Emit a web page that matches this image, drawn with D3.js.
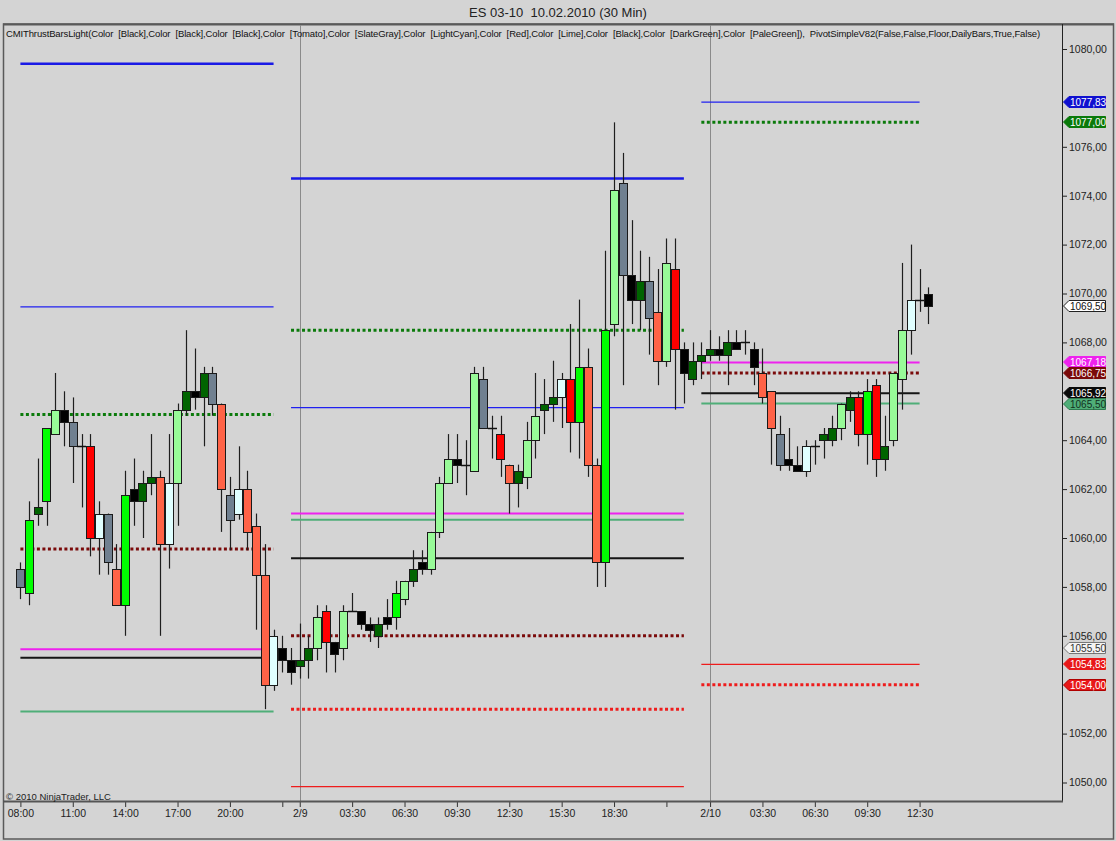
<!DOCTYPE html>
<html><head><meta charset="utf-8">
<script src="https://cdn.jsdelivr.net/npm/d3@7"></script>
<style>
html,body{margin:0;padding:0;background:#d4d4d4;}
svg{display:block;font-family:"Liberation Sans",Arial,sans-serif;}
</style></head><body>
<svg id="c" width="1116" height="841"></svg>
<script>
// ---------------- data ----------------
const opens  = [1058.75,1057.75,1061.0,1061.5,1064.25,1065.25,1064.75,1063.75,1063.75,1060.0,
                1061.0,1058.75,1057.25,1062.0,1061.5,1062.25,1062.5,1059.75,1062.25,1065.25,
                1066.0,1065.75,1066.75,1065.5,1061.75,1061.0,1062.0,1060.5,1058.5,1054.0,
                1055.5,1055.0,1054.75,1055.0,1055.5,1057.0,1055.75,1055.5,1057.0,1057.0,
                1056.5,1056.0,1056.75,1056.75,1057.5,1058.25,1059.0,1058.75,1060.25,1062.25,
                1063.25,1063.0,1062.75,1066.5,1064.5,1064.25,1063.0,1062.25,1062.5,1064.0,
                1065.25,1065.5,1065.75,1066.5,1064.75,1067.0,1063.0,1059.0,1068.75,1074.5,
                1070.75,1069.75,1070.5,1069.25,1067.25,1071.0,1067.75,1066.5,1067.25,1067.5,
                1067.75,1067.5,1068.0,1068.0,1067.75,1066.75,1066.0,1064.25,1063.25,1063.0,
                1062.75,1063.75,1064.0,1064.0,1064.5,1065.25,1065.75,1064.25,1066.25,1063.25,
                1064.0,1066.5,1068.5,1069.75,1070.0];
const highs  = [1059.0,1061.5,1063.25,1064.5,1066.75,1066.0,1065.75,1064.25,1064.25,1061.5,
                1061.0,1059.75,1062.75,1063.25,1062.75,1064.25,1062.75,1064.25,1065.5,1068.5,
                1067.75,1067.0,1067.0,1065.5,1062.5,1063.75,1062.75,1061.0,1059.75,1056.25,
                1056.0,1055.5,1056.5,1056.0,1057.25,1057.25,1055.75,1057.25,1057.75,1057.0,
                1056.75,1056.75,1057.5,1058.25,1058.25,1059.5,1059.5,1060.25,1062.5,1064.25,
                1064.25,1064.0,1067.0,1067.0,1065.0,1065.0,1063.0,1063.0,1064.75,1066.75,
                1066.5,1067.25,1066.75,1068.75,1069.75,1067.75,1063.25,1071.75,1077.0,1075.75,
                1073.0,1071.75,1071.5,1071.0,1072.25,1072.25,1068.0,1068.0,1068.0,1068.5,
                1068.25,1068.5,1068.5,1068.5,1068.0,1067.75,1066.0,1065.0,1064.5,1063.75,
                1064.0,1064.0,1064.5,1065.0,1065.5,1066.0,1066.0,1066.5,1066.5,1065.0,
                1066.75,1071.25,1072.0,1071.0,1070.25];
const lows   = [1057.5,1057.25,1060.5,1060.5,1064.25,1063.75,1062.25,1061.25,1059.25,1058.5,
                1058.5,1057.25,1056.0,1060.5,1060.0,1061.75,1056.0,1058.75,1060.5,1065.0,
                1065.25,1063.75,1065.0,1060.25,1059.5,1060.75,1059.5,1056.25,1053.0,1053.75,
                1054.5,1054.0,1054.25,1054.25,1055.0,1054.5,1054.5,1055.0,1057.0,1056.25,
                1055.75,1055.5,1056.25,1056.25,1057.25,1058.0,1058.5,1058.5,1060.0,1062.25,
                1062.25,1061.75,1062.75,1064.5,1063.25,1062.5,1061.0,1061.25,1062.0,1063.25,
                1064.25,1064.75,1064.5,1063.5,1063.25,1062.5,1058.0,1058.0,1068.25,1066.25,
                1068.75,1068.5,1067.5,1066.25,1067.0,1065.25,1065.5,1066.25,1066.5,1067.25,
                1067.25,1066.25,1067.75,1067.5,1066.25,1065.5,1063.0,1062.75,1062.75,1062.75,
                1062.5,1063.0,1063.25,1063.75,1064.0,1064.75,1063.75,1063.0,1062.5,1062.75,
                1063.75,1065.25,1067.5,1069.25,1068.75];
const closes = [1058.0,1060.75,1061.25,1064.5,1065.25,1064.75,1063.75,1063.75,1060.0,1061.0,
                1059.0,1057.25,1061.75,1061.5,1062.25,1062.5,1059.75,1062.25,1065.25,1066.0,
                1065.75,1066.75,1065.5,1062.0,1060.75,1062.0,1060.25,1058.5,1054.0,1056.0,
                1055.0,1054.5,1055.0,1055.5,1056.75,1055.75,1055.25,1057.0,1057.0,1056.5,
                1056.25,1056.5,1056.5,1057.75,1058.25,1058.75,1058.75,1060.25,1062.25,1063.25,
                1063.0,1063.0,1066.75,1064.5,1064.5,1063.25,1062.25,1062.75,1064.0,1065.0,
                1065.5,1065.75,1066.5,1064.75,1067.0,1063.0,1059.0,1068.5,1074.25,1070.75,
                1069.75,1070.5,1069.0,1067.25,1071.25,1067.75,1066.75,1067.25,1067.5,1067.75,
                1067.5,1068.0,1067.75,1068.0,1067.0,1065.75,1064.5,1063.0,1063.0,1062.75,
                1063.75,1063.75,1064.25,1064.5,1065.5,1065.75,1064.25,1066.0,1063.25,1063.75,
                1066.75,1068.5,1069.75,1069.75,1069.5];
const barColors = ["gray","lime","dkgreen","lime","pale","black","gray","black","red","cyan",
                "gray","tomato","lime","black","dkgreen","dkgreen","tomato","cyan","pale","dkgreen",
                "black","dkgreen","gray","tomato","gray","cyan","tomato","tomato","tomato","cyan",
                "black","black","dkgreen","dkgreen","pale","red","black","pale","black","black",
                "black","dkgreen","black","lime","pale","dkgreen","black","pale","pale","pale",
                "black","black","pale","gray","black","red","tomato","dkgreen","pale","pale",
                "dkgreen","dkgreen","cyan","red","lime","tomato","tomato","lime","pale","gray",
                "black","dkgreen","gray","tomato","pale","red","black","dkgreen","dkgreen","dkgreen",
                "black","dkgreen","black","black","black","tomato","tomato","gray","black","black",
                "cyan","black","dkgreen","dkgreen","pale","dkgreen","red","lime","red","dkgreen",
                "pale","pale","cyan","black","black"];

const xTickIdx    = [0,6,12,18,24,30,32,38,44,50,56,62,68,74,79,85,91,97,103];
const xTickLabels = ["08:00","11:00","14:00","17:00","20:00","","2/9","03:30","06:30","09:30",
                     "12:30","15:30","18:30","","2/10","03:30","06:30","09:30","12:30"];
const yTickValues = [1050,1052,1056,1058,1060,1062,1064,1068,1070,1072,1074,1076,1080];

const sessionFirstBar = [0,31,78];
const sessionLastBar  = [29,76,103];
const sessionBreaks   = [32,79];

const pivotR2        = [1079.40,1074.70,null];
const pivotR1        = [1069.45,1065.33,1077.83];
const priorHigh      = [1065.05,1068.50,1077.00];
const pivotMagenta   = [1055.45,1061.00,1067.18];
const priorClose     = [1059.55,1056.00,1066.75];
const pivotPP        = [1055.10,1059.17,1065.92];
const pivotMid       = [1052.90,1060.75,1065.50];
const pivotS1        = [null,1049.83,1054.83];
const priorLow       = [null,1053.00,1054.00];

const markerValues = [1077.83,1077.00,1069.50,1067.18,1066.75,1065.92,1065.50,1055.50,1054.83,1054.00];
const markerKinds  = ["r1","ph","last","mag","pc","pp","mid","open","s1","pl"];

const titleText = "ES 03-10  10.02.2010 (30 Min)";
const indicatorText = "CMIThrustBarsLight(Color  [Black],Color  [Black],Color  [Black],Color  [Tomato],Color  [SlateGray],Color  [LightCyan],Color  [Red],Color  [Lime],Color  [Black],Color  [DarkGreen],Color  [PaleGreen]),  PivotSimpleV82(False,False,Floor,DailyBars,True,False)";
const copyrightText = "\u00A9 2010 NinjaTrader, LLC";

// ---------------- layout & styles ----------------
const W = 1116, H = 841;
const plotL = 3, plotR = 1062, plotT = 24, plotB = 801;
const palette = {black:"#000000", tomato:"#FF6347", gray:"#708090", cyan:"#E0FFFF",
                 red:"#FF0000", lime:"#00FF00", dkgreen:"#006400", pale:"#98FB98"};

const svg = d3.select("#c");
svg.append("rect").attr("width",W).attr("height",H).attr("fill","#d4d4d4");

const x = d3.scaleLinear().domain([0,104]).range([20.4, 20.4 + 8.73*104]);
const y = d3.scaleLinear().domain([1050,1080]).range([782.5,49]);

// title
svg.append("text").attr("x",558).attr("y",17).attr("text-anchor","middle")
  .attr("font-size",13).attr("fill","#222").style("white-space","pre").text(titleText);

// frame
svg.append("rect").attr("x",3.5).attr("y",24).attr("width",1110).attr("height",815)
  .attr("fill","none").attr("stroke","#5a5a5a").attr("stroke-width",1.5);
svg.append("line").attr("x1",3).attr("x2",1114).attr("y1",24.5).attr("y2",24.5)
  .attr("stroke","#5a5a5a").attr("stroke-width",2);

// clip
svg.append("clipPath").attr("id","pc").append("rect")
  .attr("x",plotL+1).attr("y",plotT+1).attr("width",plotR-plotL-1).attr("height",plotB-plotT-1);
const plot = svg.append("g").attr("clip-path","url(#pc)");

// session separators
plot.selectAll("line.sep").data(sessionBreaks).join("line").attr("class","sep")
  .attr("x1",d=>Math.round(x(d))+0.5).attr("x2",d=>Math.round(x(d))+0.5)
  .attr("y1",plotT).attr("y2",plotB).attr("stroke","#8a8a8a").attr("stroke-width",1);

// pivot lines
const pivotSets = [
  {vals:pivotR2, color:"#1a1ae6", w:2.5, dash:null},
  {vals:pivotR1, color:"#2020f0", w:1.2, dash:null},
  {vals:priorHigh, color:"#0b7a0b", w:3, dash:"3,2.5"},
  {vals:pivotMagenta, color:"#ee22ee", w:2, dash:null},
  {vals:priorClose, color:"#7a0a0a", w:3, dash:"3,2.5"},
  {vals:pivotPP, color:"#151515", w:2, dash:null},
  {vals:pivotMid, color:"#4fae78", w:2, dash:null},
  {vals:pivotS1, color:"#ee1c1c", w:1.2, dash:null},
  {vals:priorLow, color:"#ee1c1c", w:3, dash:"3,2.5"}
];
pivotSets.forEach(ps=>{
  const segs = ps.vals.map((v,s)=>({v, s})).filter(d=>d.v!==null);
  plot.append("g").selectAll("line").data(segs).join("line")
    .attr("x1",d=>x(sessionFirstBar[d.s])).attr("x2",d=>x(sessionLastBar[d.s]))
    .attr("y1",d=>y(d.v)).attr("y2",d=>y(d.v))
    .attr("stroke",ps.color).attr("stroke-width",ps.w)
    .attr("stroke-dasharray",ps.dash);
});

// candles
const bars = opens.map((o,i)=>({i, o, h:highs[i], l:lows[i], c:closes[i], col:barColors[i]}));
const cg = plot.append("g");
cg.selectAll("line.wick").data(bars).join("line").attr("class","wick")
  .attr("x1",d=>Math.round(x(d.i))+0.5).attr("x2",d=>Math.round(x(d.i))+0.5)
  .attr("y1",d=>y(d.h)).attr("y2",d=>y(d.l))
  .attr("stroke","#1e1e1e").attr("stroke-width",1.2);
const bodies = bars.filter(d=>d.o!==d.c);
cg.selectAll("rect.body").data(bodies).join("rect").attr("class","body")
  .attr("x",d=>Math.round(x(d.i)-4.2)+0.5).attr("width",8)
  .attr("y",d=>Math.round(y(Math.max(d.o,d.c)))+0.5)
  .attr("height",d=>Math.max(1,Math.round(y(Math.min(d.o,d.c)))-Math.round(y(Math.max(d.o,d.c)))))
  .attr("fill",d=>palette[d.col]).attr("stroke","#1a1a1a").attr("stroke-width",1);
const dojis = bars.filter(d=>d.o===d.c);
cg.selectAll("line.doji").data(dojis).join("line").attr("class","doji")
  .attr("x1",d=>Math.round(x(d.i)-4.2)).attr("x2",d=>Math.round(x(d.i)-4.2)+9)
  .attr("y1",d=>Math.round(y(d.o))+0.5).attr("y2",d=>Math.round(y(d.o))+0.5)
  .attr("stroke","#111").attr("stroke-width",1.5);

// axes
const yAxis = d3.axisRight(y).tickValues(yTickValues)
  .tickFormat(d=>d.toFixed(2).replace(".",",")).tickSize(5).tickPadding(2);
const gy = svg.append("g").attr("transform",`translate(${plotR},0)`).call(yAxis);
gy.select(".domain").remove();
gy.selectAll("line").attr("stroke","#222");
gy.selectAll("text").attr("font-size",10.5).attr("fill","#222")
  .attr("font-family","'Liberation Sans',Arial,sans-serif");
svg.append("line").attr("x1",plotR+0.5).attr("x2",plotR+0.5).attr("y1",plotT).attr("y2",plotB)
  .attr("stroke","#222").attr("stroke-width",1);

const xAxis = d3.axisBottom(x).tickValues(xTickIdx)
  .tickFormat((d,i)=>xTickLabels[i]).tickSize(6).tickPadding(3);
const gx = svg.append("g").attr("transform",`translate(0,${plotB})`).call(xAxis);
gx.select(".domain").remove();
gx.selectAll("line").attr("stroke","#333");
gx.selectAll("text").attr("font-size",10.5).attr("fill","#222")
  .attr("font-family","'Liberation Sans',Arial,sans-serif");
svg.append("line").attr("x1",plotL).attr("x2",plotR+1).attr("y1",plotB+0.5).attr("y2",plotB+0.5)
  .attr("stroke","#555").attr("stroke-width",2);

// indicator label (fit to ~1036px with letter spacing, no glyph stretching)
const ind = svg.append("text").attr("x",6).attr("y",37).attr("font-size",9.5).attr("fill","#111")
  .style("white-space","pre").text(indicatorText);
const natural = ind.node().getComputedTextLength();
const targetW = 1034;
const ls = (targetW - natural) / indicatorText.length;
ind.attr("letter-spacing", ls.toFixed(3));

svg.append("text").attr("x",6).attr("y",800).attr("font-size",9.5).attr("fill","#222")
  .text(copyrightText);

// price markers on right axis
const markerStyle = {
  r1:{fill:"#1010d0", stroke:"#1010d0", text:"#ffffff"},
  ph:{fill:"#0a7a0a", stroke:"#0a7a0a", text:"#ffffff"},
  last:{fill:"#ffffff", stroke:"#222222", text:"#111111"},
  mag:{fill:"#ee22ee", stroke:"#ee22ee", text:"#ffffff"},
  pc:{fill:"#7a0a0a", stroke:"#7a0a0a", text:"#ffffff"},
  pp:{fill:"#0a0a0a", stroke:"#0a0a0a", text:"#ffffff"},
  mid:{fill:"#4fae78", stroke:"#2f7a4f", text:"#12301e"},
  open:{fill:"#f4f4f4", stroke:"#777777", text:"#333333"},
  s1:{fill:"#e81818", stroke:"#e81818", text:"#ffffff"},
  pl:{fill:"#e81818", stroke:"#b00000", text:"#ffffff"}
};
const markers = markerValues.map((v,i)=>({v, k:markerKinds[i]}));
const mg = svg.append("g").selectAll("g").data(markers).join("g")
  .attr("transform",d=>`translate(0,${Math.round(y(d.v))})`);
mg.append("path")
  .attr("d","M1063.5,0 L1069,-5.5 L1105.5,-5.5 L1105.5,5.5 L1069,5.5 Z")
  .attr("fill",d=>markerStyle[d.k].fill).attr("stroke",d=>markerStyle[d.k].stroke).attr("stroke-width",1);
mg.append("text").attr("x",1070).attr("y",4).attr("font-size",10)
  .attr("fill",d=>markerStyle[d.k].text)
  .text(d=>d.v.toFixed(2).replace(".",","));
</script>
</body></html>
